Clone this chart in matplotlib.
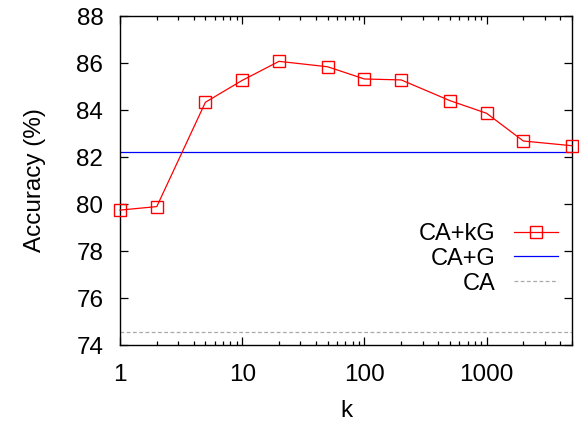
import numpy as np
import matplotlib
matplotlib.use("Agg")
import matplotlib.pyplot as plt
from matplotlib.ticker import LogLocator, FixedLocator, FixedFormatter, NullFormatter

plt.rcParams['font.family'] = ['Liberation Sans', 'DejaVu Sans']

k = [1, 2, 5, 10, 20, 50, 100, 200, 500, 1000, 2000, 5000]
acc_kg = [79.74, 79.89, 84.33, 85.26, 86.07, 85.84, 85.32, 85.28, 84.40, 83.86, 82.68, 82.48]
acc_g = 82.21
acc_ca = 74.54
xticks = [1, 10, 100, 1000]
yticks = [74, 76, 78, 80, 82, 84, 86, 88]

fig = plt.figure(figsize=(5.79, 4.23), dpi=100)
ax = fig.add_axes([120/579, 1 - 345/423, 452/579, 329/423])

ax.plot(k, acc_kg, color='#ff0000', lw=0.9, marker='s', ms=8, mfc='none',
        mec='#ff0000', mew=1.0, label='CA+kG', clip_on=False, zorder=3)
ax.axhline(acc_g, color='#0000ff', lw=0.9, label='CA+G')
ax.axhline(acc_ca, color='#aaaaaa', lw=0.9, ls=(0, (3, 2)), label='CA')

ax.set_xscale('log')
ax.set_xlim(1, 5000)
ax.set_ylim(74, 88)
ax.xaxis.set_major_locator(FixedLocator(xticks))
ax.xaxis.set_major_formatter(FixedFormatter([str(t) for t in xticks]))
ax.xaxis.set_minor_locator(LogLocator(base=10, subs=np.arange(2, 10), numticks=20))
ax.xaxis.set_minor_formatter(NullFormatter())
ax.set_yticks(yticks)

ax.tick_params(which='both', direction='in', top=True, right=True, labelsize=17.5, colors='black')
ax.tick_params(which='major', length=6, width=0.9)
ax.tick_params(which='minor', length=3, width=0.9)
ax.tick_params(axis='x', which='major', pad=14)
ax.tick_params(axis='y', which='major', pad=12)
for s in ax.spines.values():
    s.set_linewidth(1.0)

ax.set_xlabel('k', fontsize=17.5, labelpad=10)
ax.set_ylabel('Accuracy (%)', fontsize=17.5, labelpad=22)

ax.legend(loc='upper right', bbox_to_anchor=(0.99, 0.40), frameon=False, markerfirst=False,
          fontsize=17, handlelength=1.85, labelspacing=0.12, handletextpad=0.8,
          borderaxespad=0)

fig.savefig('out.png', dpi=100)
